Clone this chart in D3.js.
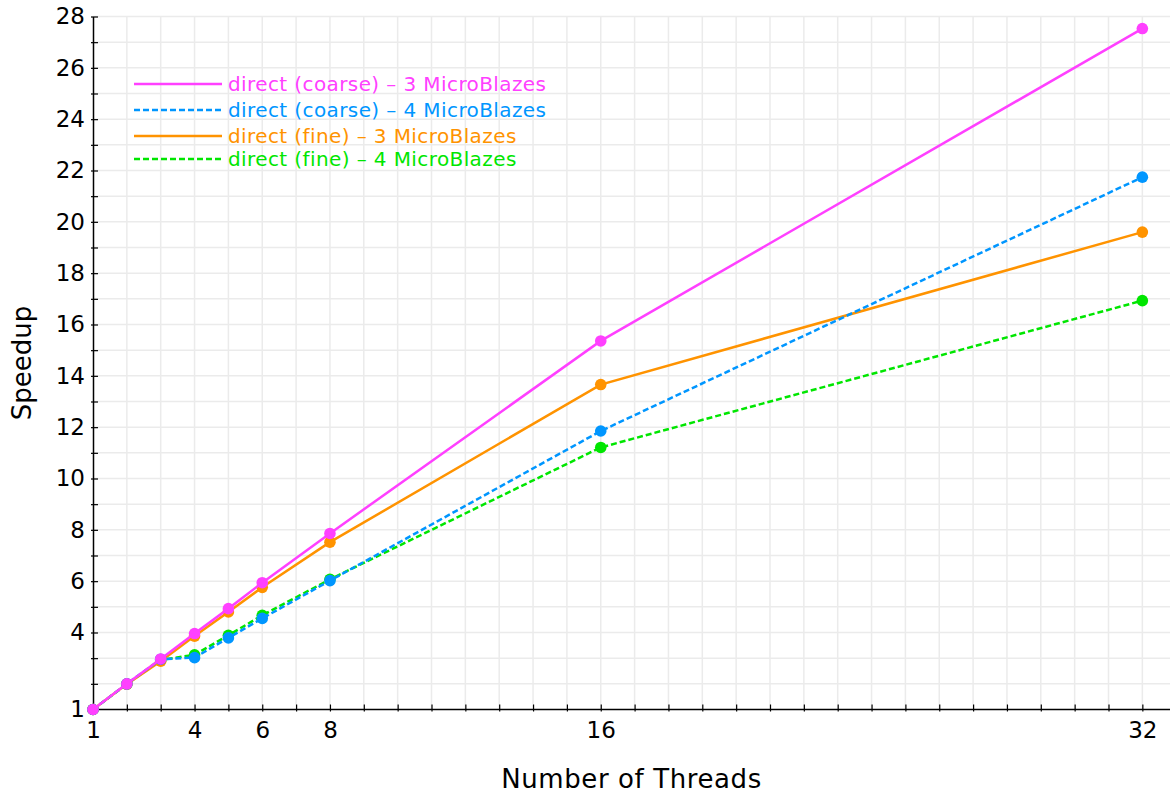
<!DOCTYPE html>
<html>
<head>
<meta charset="utf-8">
<script src="https://cdn.jsdelivr.net/npm/d3@7"></script>
<style>
  html, body { margin: 0; padding: 0; background: #fff; }
  svg { display: block; font-family: "DejaVu Sans", sans-serif; }
</style>
</head>
<body>
<svg id="chart" width="1170" height="794"></svg>
<script>
// Thread counts measured
const threads = [1, 2, 3, 4, 5, 6, 8, 16, 32];

// Speedup per configuration
const coarse3 = [1, 2.0, 2.97, 3.96, 4.93, 5.94, 7.86, 15.36, 27.53];
const coarse4 = [1, 2.0, 2.96, 3.02, 3.79, 4.55, 6.02, 11.85, 21.74];
const fine3   = [1, 1.99, 2.88, 3.86, 4.80, 5.76, 7.52, 13.66, 19.60];
const fine4   = [1, 1.99, 2.93, 3.13, 3.89, 4.67, 6.07, 11.21, 16.93];

const seriesNames = [
  "direct (coarse) – 3 MicroBlazes",
  "direct (coarse) – 4 MicroBlazes",
  "direct (fine) – 3 MicroBlazes",
  "direct (fine) – 4 MicroBlazes"
];

// Tick labels
const xTickLabels = [1, 4, 6, 8, 16, 32];
const yTickLabels = [1, 4, 6, 8, 10, 12, 14, 16, 18, 20, 22, 24, 26, 28];

const series = [
  { name: seriesNames[0], values: coarse3, color: "#ff40ff", dash: null },
  { name: seriesNames[1], values: coarse4, color: "#0096ff", dash: "6,3" },
  { name: seriesNames[2], values: fine3,   color: "#ff9300", dash: null },
  { name: seriesNames[3], values: fine4,   color: "#00e600", dash: "6,3" }
];

const svg = d3.select("#chart");
const plotL = 93, plotR = 1176.2, plotT = 16.5, plotB = 709.5, clipR = 1170;

const x = d3.scaleLinear().domain([1, 33]).range([plotL, plotR]);
const y = d3.scaleLinear().domain([1, 28]).range([plotB, plotT]);

// Grid: every integer in both directions
const grid = svg.append("g").attr("stroke", "#ebebeb").attr("stroke-width", 1.5);
d3.range(2, 34).forEach(v => {
  grid.append("line").attr("x1", x(v)).attr("x2", x(v)).attr("y1", plotT).attr("y2", plotB);
});
d3.range(2, 29).forEach(v => {
  grid.append("line").attr("x1", plotL).attr("x2", clipR).attr("y1", y(v)).attr("y2", y(v));
});

// Axes built with D3 axis generators, ticks pointing into the plot
const xAxis = d3.axisBottom(x)
  .tickValues(d3.range(1, 33))
  .tickSizeInner(-5).tickSizeOuter(0)
  .tickFormat(d => xTickLabels.includes(d) ? d : "");
const gx = svg.append("g").attr("transform", `translate(0,${plotB})`).call(xAxis);
gx.select(".domain").attr("d", `M${plotL},0H${clipR}`).attr("stroke", "#000").attr("stroke-width", 1.5);
gx.selectAll(".tick line").attr("y1", 2).attr("y2", -5).attr("stroke", "#000").attr("stroke-width", 1.2);
gx.selectAll(".tick text").attr("y", 12).attr("dy", "0.71em")
  .attr("font-size", 23).attr("font-family", "DejaVu Sans, sans-serif").attr("fill", "#000");

const yAxis = d3.axisLeft(y)
  .tickValues(d3.range(1, 29))
  .tickSizeInner(-5).tickSizeOuter(0)
  .tickFormat(d => yTickLabels.includes(d) ? d : "");
const gy = svg.append("g").attr("transform", `translate(${plotL},0)`).call(yAxis);
gy.select(".domain").attr("stroke", "#000").attr("stroke-width", 1.5);
gy.selectAll(".tick line").attr("x1", -2).attr("x2", 5).attr("stroke", "#000").attr("stroke-width", 1.2);
gy.selectAll(".tick text").attr("x", -8)
  .attr("font-size", 23).attr("font-family", "DejaVu Sans, sans-serif").attr("fill", "#000");

// Axis titles
svg.append("text")
  .attr("x", (plotL + clipR) / 2).attr("y", 788)
  .attr("text-anchor", "middle").attr("font-size", 26).attr("letter-spacing", 0.6).attr("fill", "#000")
  .text("Number of Threads");
svg.append("text")
  .attr("transform", `translate(31,${(plotT + plotB) / 2}) rotate(-90)`)
  .attr("text-anchor", "middle").attr("font-size", 26).attr("fill", "#000")
  .text("Speedup");

// Series lines and markers, last legend entry drawn first
const line = d3.line().x((d, i) => x(threads[i])).y(d => y(d));
series.slice().reverse().forEach(s => {
  const g = svg.append("g");
  g.append("path")
    .attr("d", line(s.values))
    .attr("fill", "none")
    .attr("stroke", s.color)
    .attr("stroke-width", 2.5)
    .attr("stroke-dasharray", s.dash);
  g.selectAll("circle").data(s.values).join("circle")
    .attr("cx", (d, i) => x(threads[i]))
    .attr("cy", d => y(d))
    .attr("r", 5.8)
    .attr("fill", s.color);
});

// Legend
const legendRows = [84, 110, 136, 159];
series.forEach((s, i) => {
  const ly = legendRows[i];
  svg.append("line")
    .attr("x1", 134).attr("x2", 222).attr("y1", ly).attr("y2", ly)
    .attr("stroke", s.color).attr("stroke-width", 2.5)
    .attr("stroke-dasharray", s.dash);
  svg.append("text")
    .attr("x", 228).attr("y", ly).attr("dy", "0.35em")
    .attr("font-size", 20).attr("letter-spacing", 0.4).attr("fill", s.color)
    .text(s.name);
});
</script>
</body>
</html>
